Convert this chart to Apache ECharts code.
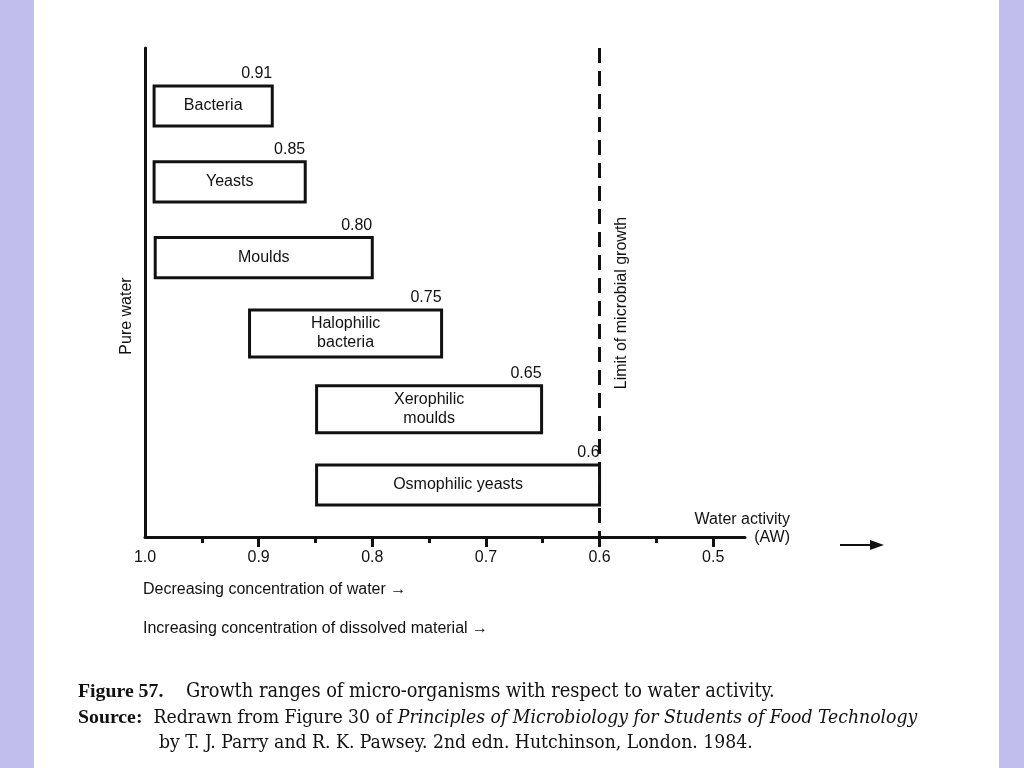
<!DOCTYPE html>
<html>
<head>
<meta charset="utf-8">
<script src="https://cdn.jsdelivr.net/npm/echarts@6/dist/echarts.min.js"></script>
<style>
html,body{margin:0;padding:0;background:#fff;}
#chart{width:1024px;height:768px;}
</style>
</head>
<body>
<div id="chart"></div>
<script>
// ---- data ----
const organisms = ['Bacteria', 'Yeasts', 'Moulds', 'Halophilic\nbacteria', 'Xerophilic\nmoulds', 'Osmophilic yeasts'];
const rangeStart = [0.992, 0.992, 0.991, 0.908, 0.849, 0.849];
const rangeEnd   = [0.888, 0.859, 0.800, 0.739, 0.651, 0.600];
const limitLabels = ['0.91', '0.85', '0.80', '0.75', '0.65', '0.6'];
const majorTicks = [1.0, 0.9, 0.8, 0.7, 0.6, 0.5];
const minorTicks = [0.95, 0.85, 0.75, 0.65, 0.55];
const limitOfGrowth = 0.6;

const chart = echarts.init(document.getElementById('chart'), null, {renderer: 'canvas'});
const FONT = '"Liberation Sans", Arial, sans-serif';
const SERIF = '"DejaVu Serif Condensed", "DejaVu Serif", "Liberation Serif", serif';
const SERIF_B = '"Liberation Serif", "Times New Roman", serif';
const INK = '#111';
const FS = 16;

const data = organisms.map((name, i) => [i, rangeStart[i], rangeEnd[i]]);

const option = {
  backgroundColor: '#ffffff',
  animation: false,
  grid: {left: 145, right: 279, top: 48, bottom: 231},
  xAxis: [{
    type: 'value', inverse: true, min: 0.472, max: 1.0,
    splitLine: {show: false},
    axisLine: {show: true, onZero: false, lineStyle: {color: INK, width: 3}},
    axisTick: {show: true, customValues: majorTicks.slice(1), length: 10, lineStyle: {color: INK, width: 3}},
    axisLabel: {show: true, customValues: majorTicks, margin: 13, color: INK, fontFamily: FONT, fontSize: FS,
      formatter: v => v.toFixed(1)}
  }, {
    type: 'value', inverse: true, min: 0.472, max: 1.0, position: 'bottom',
    splitLine: {show: false},
    axisLine: {show: false, onZero: false},
    axisTick: {show: true, customValues: minorTicks, length: 6, lineStyle: {color: INK, width: 3}},
    axisLabel: {show: false}
  }],
  yAxis: {
    type: 'value', inverse: true, min: -0.765, max: 5.686,
    splitLine: {show: false},
    axisLine: {show: true, onZero: false, lineStyle: {color: INK, width: 3}},
    axisTick: {show: false},
    axisLabel: {show: false}
  },
  series: [{
    type: 'custom',
    xAxisIndex: 0,
    data: data,
    encode: {x: [1, 2], y: 0},
    renderItem: function (params, api) {
      const idx = api.value(0);
      const a = api.coord([api.value(1), idx]);
      const b = api.coord([api.value(2), idx]);
      const name = organisms[params.dataIndex];
      const twoLines = name.indexOf('\n') >= 0;
      const h = api.size([0, twoLines ? 0.62 : 0.53])[1];
      const top = a[1] - h / 2;
      return {
        type: 'group',
        children: [
          {type: 'rect', shape: {x: a[0], y: top, width: b[0] - a[0], height: h},
            style: {fill: '#fff', stroke: INK, lineWidth: 3}},
          {type: 'text', style: {text: name, x: (a[0] + b[0]) / 2, y: a[1], align: 'center', verticalAlign: 'middle',
            fill: INK, font: FS + 'px ' + FONT, lineHeight: 19}},
          {type: 'text', style: {text: limitLabels[params.dataIndex], x: b[0], y: top - 4, align: 'right', verticalAlign: 'bottom',
            fill: INK, font: FS + 'px ' + FONT}}
        ]
      };
    },
    markLine: {
      silent: true, symbol: 'none',
      label: {show: false},
      lineStyle: {color: INK, width: 3, type: [15, 8]},
      data: [{xAxis: limitOfGrowth}]
    },
    z: 3
  }],
  graphic: [
    {type: 'rect', left: 0, top: 0, shape: {width: 34, height: 768}, style: {fill: '#c1bdec'}, silent: true},
    {type: 'rect', left: 999, top: 0, shape: {width: 25, height: 768}, style: {fill: '#c1bdec'}, silent: true},
    {type: 'text', x: 127, y: 316, rotation: Math.PI / 2,
      style: {text: 'Pure water', align: 'center', verticalAlign: 'middle', fill: INK, font: FS + 'px ' + FONT}},
    {type: 'text', x: 622, y: 303, rotation: Math.PI / 2,
      style: {text: 'Limit of microbial growth', align: 'center', verticalAlign: 'middle', fill: INK, font: FS + 'px ' + FONT}},
    {type: 'text', x: 790, y: 520,
      style: {text: 'Water activity', align: 'right', verticalAlign: 'middle', fill: INK, font: FS + 'px ' + FONT}},
    {type: 'text', x: 790, y: 538,
      style: {text: '(AW)', align: 'right', verticalAlign: 'middle', fill: INK, font: FS + 'px ' + FONT}},
    {type: 'line', shape: {x1: 840, y1: 545, x2: 872, y2: 545}, style: {stroke: INK, lineWidth: 2}},
    {type: 'polygon', shape: {points: [[870, 540], [884, 545], [870, 550]]}, style: {fill: INK}},
    {type: 'text', x: 143, y: 590,
      style: {text: 'Decreasing concentration of water →', align: 'left', verticalAlign: 'middle', fill: INK, font: FS + 'px ' + FONT}},
    {type: 'text', x: 143, y: 629,
      style: {text: 'Increasing concentration of dissolved material →', align: 'left', verticalAlign: 'middle', fill: INK, font: FS + 'px ' + FONT}},
    {type: 'text', x: 78, y: 692,
      style: {
        text: '{b|Figure 57.}{r|    Growth ranges of micro-organisms with respect to water activity.}',
        verticalAlign: 'middle', fill: INK,
        rich: {
          b: {fontFamily: SERIF_B, fontSize: 19.8, fontWeight: 'bold', fill: INK},
          r: {fontFamily: SERIF, fontSize: 19.8, fill: INK}
        }
      }},
    {type: 'text', x: 78, y: 718,
      style: {
        text: '{b|Source:}{r|  Redrawn from Figure 30 of }{i|Principles of Microbiology for Students of Food Technology}',
        verticalAlign: 'middle', fill: INK,
        rich: {
          b: {fontFamily: SERIF_B, fontSize: 19.8, fontWeight: 'bold', fill: INK},
          r: {fontFamily: SERIF, fontSize: 19.2, fill: INK},
          i: {fontFamily: SERIF, fontSize: 19.2, fontStyle: 'italic', fill: INK}
        }
      }},
    {type: 'text', x: 159, y: 743,
      style: {text: 'by T. J. Parry and R. K. Pawsey. 2nd edn. Hutchinson, London. 1984.', verticalAlign: 'middle',
        fill: INK, font: '19.2px ' + SERIF}}
  ]
};
chart.setOption(option);
</script>
</body>
</html>
